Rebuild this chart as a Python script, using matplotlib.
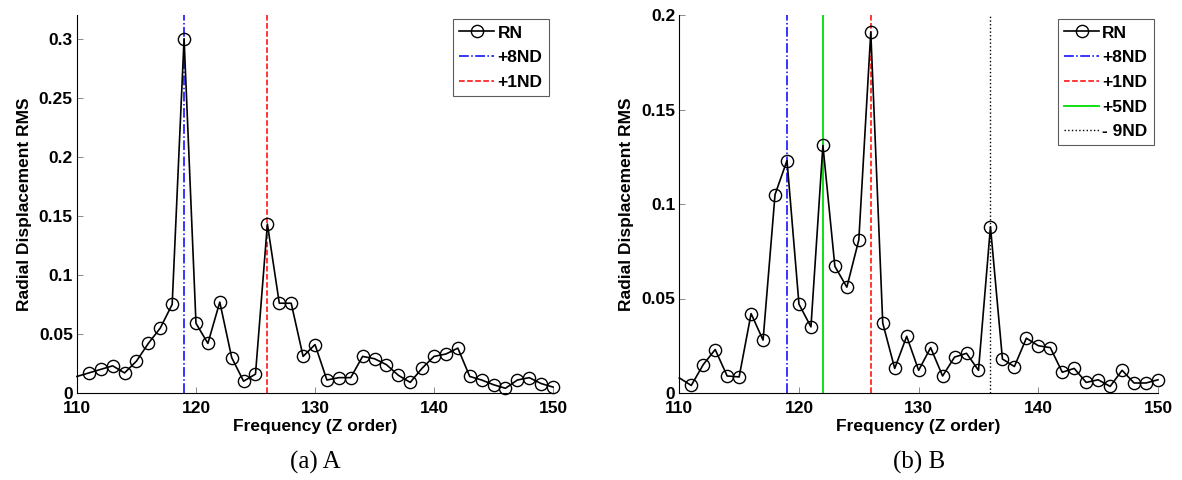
import numpy as np
import matplotlib
matplotlib.use('Agg')
import matplotlib.pyplot as plt

# ----------------------------------------------------------------------------------------------------------------------
# data
z_order = list(range(110, 151))

rms_a = [0.014, 0.017, 0.020, 0.023, 0.017, 0.027, 0.042, 0.055, 0.075, 0.300, 0.059,
         0.042, 0.077, 0.030, 0.010, 0.016, 0.143, 0.076, 0.076, 0.031, 0.041,
         0.011, 0.013, 0.013, 0.031, 0.029, 0.024, 0.015, 0.009, 0.021, 0.031,
         0.033, 0.038, 0.014, 0.011, 0.007, 0.004, 0.011, 0.013, 0.008, 0.005]

rms_b = [0.008, 0.004, 0.015, 0.023, 0.009, 0.0085, 0.042, 0.028, 0.105, 0.123, 0.047,
         0.035, 0.131, 0.067, 0.056, 0.081, 0.191, 0.037, 0.013, 0.030, 0.012,
         0.024, 0.009, 0.019, 0.021, 0.012, 0.088, 0.018, 0.014, 0.029, 0.025,
         0.024, 0.011, 0.013, 0.0056, 0.007, 0.0035, 0.012, 0.0053, 0.0053, 0.007]

lines_a = [('+8ND', 119), ('+1ND', 126)]
lines_b = [('+8ND', 119), ('+1ND', 126), ('+5ND', 122), ('- 9ND', 136)]

x_ticks = [110, 120, 130, 140, 150]
y_ticks_a = [0, 0.05, 0.1, 0.15, 0.2, 0.25, 0.3]
y_labels_a = ['0', '0.05', '0.1', '0.15', '0.2', '0.25', '0.3']
y_ticks_b = [0, 0.05, 0.1, 0.15, 0.2]
y_labels_b = ['0', '0.05', '0.1', '0.15', '0.2']
# ----------------------------------------------------------------------------------------------------------------------

# styles of the vertical lines
line_style = {
    '+8ND': dict(color='#0000ff', linestyle='-.', linewidth=1.1),
    '+1ND': dict(color='#ff0000', linestyle='--', linewidth=1.1),
    '+5ND': dict(color='#00dd00', linestyle='-', linewidth=1.3),
    '- 9ND': dict(color='black', linestyle=':', linewidth=1.0),
}

plt.rcParams['font.family'] = ['Liberation Sans', 'DejaVu Sans']
plt.rcParams['font.weight'] = 'bold'


# ----------------------------------------------------------------------------------------------------------------------
# method to draw one panel
def draw_panel(ax, values, vlines, y_max, y_ticks, y_labels, caption):

    # first point has no marker (line enters from the axis edge)
    ax.plot(z_order, values, color='black', linewidth=1.2, marker='o', markersize=8.8,
            markerfacecolor='none', markeredgecolor='black', markeredgewidth=1.0,
            markevery=slice(1, None), label='RN', zorder=3, clip_on=False)
    for name, pos in vlines:
        ax.axvline(pos, label=name, zorder=2, **line_style[name])

    ax.set_xlim(110, 150)
    ax.set_ylim(0, y_max)
    ax.set_xticks(x_ticks)
    ax.set_xticklabels([str(v) for v in x_ticks])
    ax.set_yticks(y_ticks)
    ax.set_yticklabels(y_labels)
    ax.tick_params(direction='in', length=4, width=0.6, color='#777777', labelsize=12.5, pad=3)
    ax.tick_params(axis='x', pad=6)
    for side in ['top', 'right']:
        ax.spines[side].set_visible(False)
    for side in ['left', 'bottom']:
        ax.spines[side].set_linewidth(0.8)

    ax.set_xlabel('Frequency (Z order)', fontsize=12.5, fontweight='bold', labelpad=2)
    ax.set_ylabel('Radial Displacement RMS', fontsize=12.5, fontweight='bold', labelpad=5)

    leg = ax.legend(loc='upper right', fontsize=12.5, frameon=True, fancybox=False,
                    borderpad=0.35, labelspacing=0.55, handlelength=2.0, handletextpad=0.2,
                    borderaxespad=0.25)
    leg.get_frame().set_edgecolor('#333333')
    leg.get_frame().set_linewidth(0.8)
    leg.set_zorder(5)

    ax.text(0.5, -0.183, caption, transform=ax.transAxes, ha='center', va='center',
            fontsize=18, fontweight='normal', family=['Liberation Serif', 'DejaVu Serif'])
# ----------------------------------------------------------------------------------------------------------------------


fig = plt.figure(figsize=(11.82, 4.8), dpi=100)
ax_a = fig.add_axes([0.0651, 0.18125, 0.4028, 0.7875])
ax_b = fig.add_axes([0.5747, 0.18125, 0.4050, 0.7875])

draw_panel(ax_a, rms_a, lines_a, 0.32, y_ticks_a, y_labels_a, '(a) A')
draw_panel(ax_b, rms_b, lines_b, 0.2, y_ticks_b, y_labels_b, '(b) B')

fig.savefig('out.png', dpi=100)
